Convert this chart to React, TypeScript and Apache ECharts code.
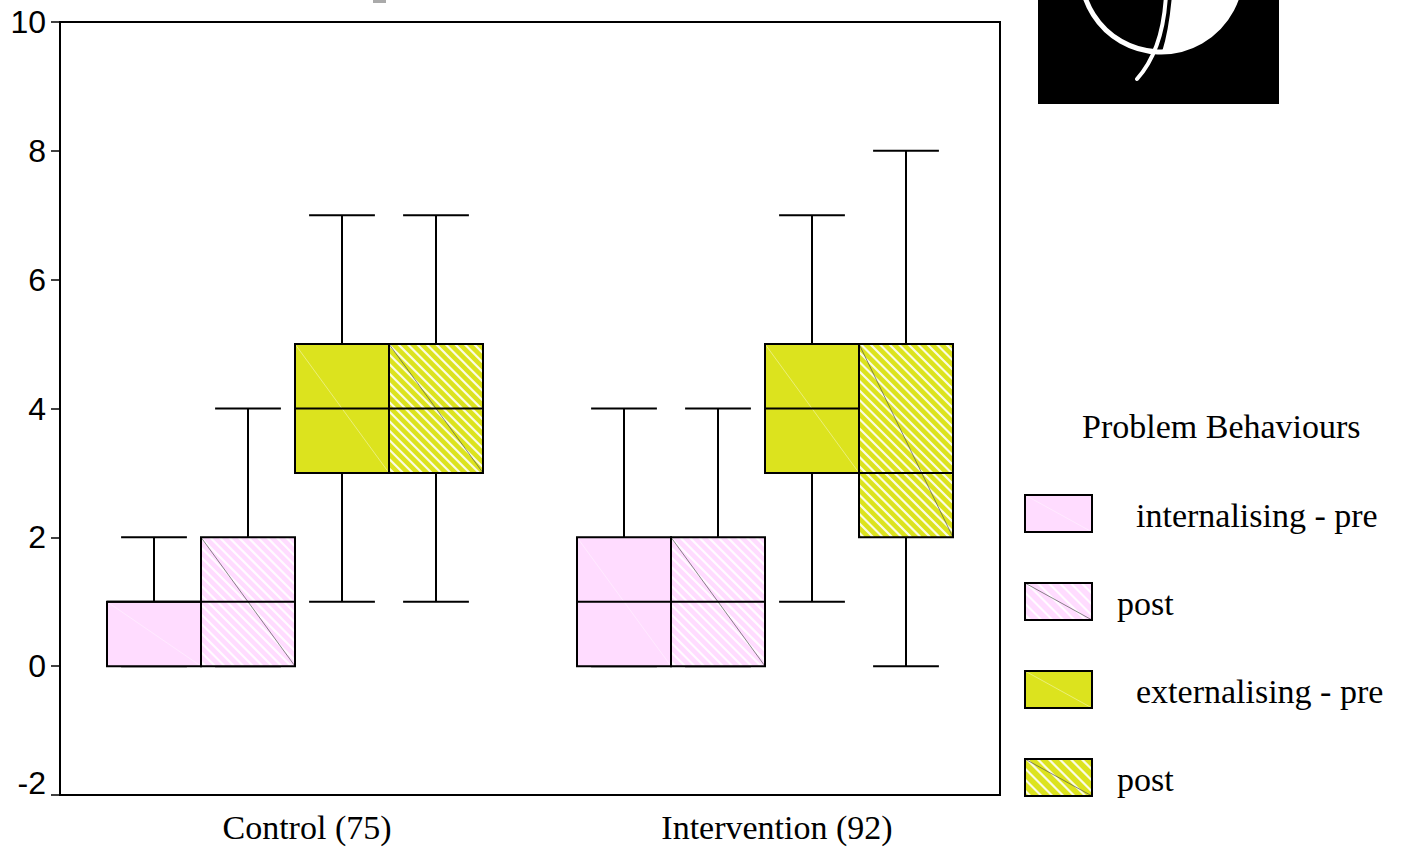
import React, { useEffect, useRef } from "react";
import * as echarts from "echarts";

const categories = ["Control (75)", "Intervention (92)"];
const legendTitle = "Problem Behaviours";
const seriesNames = ["internalising - pre", "post", "externalising - pre", "post"];
// each row: [min, q1, median, q3, max] for Control, Intervention
const internalisingPre = [
  [0, 0, 1, 1, 2],
  [0, 0, 1, 2, 4],
];
const internalisingPost = [
  [0, 0, 1, 2, 4],
  [0, 0, 1, 2, 4],
];
const externalisingPre = [
  [1, 3, 4, 5, 7],
  [1, 3, 4, 5, 7],
];
const externalisingPost = [
  [1, 3, 4, 5, 7],
  [0, 2, 3, 5, 8],
];
const yMin = -2;
const yMax = 10;
const yInterval = 2;

const PINK = "#FFDCFF";
const YELLOW = "#DCE31E";
const SERIF = "Liberation Serif";
const SANS = "Liberation Sans";

echarts.graphic.registerShape(
  "logoFill",
  echarts.graphic.extendPath("M1172 -5 Q1169 30 1162 52 A80 80 0 0 0 1238 -5 Z", {})
);

function hatchLines(x0: number, y0: number, x1: number, y1: number, spacing: number, style: any) {
  const out: any[] = [];
  for (let k = x0 - y1 + spacing / 2; k < x1 - y0; k += spacing) {
    const ya = Math.max(y0, x0 - k);
    const yb = Math.min(y1, x1 - k);
    if (yb - ya > 0.5) {
      out.push({
        type: "line",
        shape: { x1: ya + k, y1: ya, x2: yb + k, y2: yb },
        style,
        silent: true,
      });
    }
  }
  return out;
}

const hatchStyle = { stroke: "rgba(255,255,255,0.88)", lineWidth: 2.2 };

function makeRender(slot: number, fill: string, hatched: boolean) {
  return (params: any, api: any) => {
    const cat = api.value(0);
    const band = api.size([1, 0])[0];
    const bw = band * 0.2;
    const cx = api.coord([cat, 0])[0] + (slot - 1.5) * bw;
    const pMin = api.coord([cat, api.value(1)])[1];
    const pQ1 = api.coord([cat, api.value(2)])[1];
    const pMed = api.coord([cat, api.value(3)])[1];
    const pQ3 = api.coord([cat, api.value(4)])[1];
    const pMax = api.coord([cat, api.value(5)])[1];
    const x0 = cx - bw / 2;
    const x1 = cx + bw / 2;
    const cap = bw * 0.35;
    const ls = { stroke: "#000", lineWidth: 2 };
    const children: any[] = [
      { type: "line", shape: { x1: cx, y1: pMax, x2: cx, y2: pQ3 }, style: ls },
      { type: "line", shape: { x1: cx, y1: pQ1, x2: cx, y2: pMin }, style: ls },
      { type: "line", shape: { x1: cx - cap, y1: pMax, x2: cx + cap, y2: pMax }, style: ls },
      { type: "line", shape: { x1: cx - cap, y1: pMin, x2: cx + cap, y2: pMin }, style: ls },
      { type: "rect", shape: { x: x0, y: pQ3, width: bw, height: pQ1 - pQ3 }, style: { fill } },
    ];
    if (hatched) {
      children.push(...hatchLines(x0, pQ3, x1, pQ1, 9.5, hatchStyle));
      children.push({
        type: "line",
        shape: { x1: x0, y1: pQ3, x2: x1, y2: pQ1 },
        style: { stroke: "#555", lineWidth: 0.7 },
      });
    } else {
      children.push({
        type: "line",
        shape: { x1: x0, y1: pQ3, x2: x1, y2: pQ1 },
        style: { stroke: "rgba(255,255,255,0.5)", lineWidth: 0.8 },
      });
    }
    children.push(
      { type: "rect", shape: { x: x0, y: pQ3, width: bw, height: pQ1 - pQ3 }, style: { fill: "none", stroke: "#000", lineWidth: 2 } },
      { type: "line", shape: { x1: x0, y1: pMed, x2: x1, y2: pMed }, style: ls }
    );
    return { type: "group", children };
  };
}

function toData(rows: number[][]) {
  return rows.map((r, i) => [i, ...r]);
}

function legendItem(i: number, fill: string, hatched: boolean, label: string, indent: number) {
  const x = 1025;
  const y = 495 + i * 88;
  const w = 67;
  const h = 37;
  const children: any[] = [{ type: "rect", shape: { x, y, width: w, height: h }, style: { fill } }];
  if (hatched) {
    children.push(...hatchLines(x, y, x + w, y + h, 11, hatchStyle));
    children.push({ type: "line", shape: { x1: x, y1: y, x2: x + w, y2: y + h }, style: { stroke: "#555", lineWidth: 0.7 } });
  } else {
    children.push({ type: "line", shape: { x1: x, y1: y, x2: x + w, y2: y + h }, style: { stroke: "rgba(255,255,255,0.5)", lineWidth: 0.8 } });
  }
  children.push({ type: "rect", shape: { x, y, width: w, height: h }, style: { fill: "none", stroke: "#000", lineWidth: 2 } });
  children.push({
    type: "text",
    x: indent,
    y: y + h / 2 + 2,
    style: { text: label, fontFamily: SERIF, fontSize: 34, fill: "#000", verticalAlign: "middle", align: "left" },
  });
  return { type: "group", children };
}

export default function App() {
  const ref = useRef<HTMLDivElement>(null);
  useEffect(() => {
    if (!ref.current) return;
    const chart = echarts.init(ref.current, undefined, { renderer: "svg" });
    const defs = [
      { data: internalisingPre, fill: PINK, hatched: false },
      { data: internalisingPost, fill: PINK, hatched: true },
      { data: externalisingPre, fill: YELLOW, hatched: false },
      { data: externalisingPost, fill: YELLOW, hatched: true },
    ];
    chart.setOption({
      animation: false,
      backgroundColor: "#fff",
      grid: { left: 60, right: 402, top: 22, bottom: 52, show: true, borderColor: "#000", borderWidth: 2, backgroundColor: "transparent" },
      xAxis: {
        type: "category",
        data: categories,
        boundaryGap: true,
        axisLine: { onZero: false, lineStyle: { color: "#000", width: 2 } },
        axisTick: { alignWithLabel: true, length: 8, lineStyle: { color: "#000", width: 1.5 } },
        axisLabel: { color: "#000", fontFamily: SERIF, fontSize: 34, margin: 15, padding: [0, 0, 0, 24] },
        splitLine: { show: false },
      },
      yAxis: {
        type: "value",
        min: yMin,
        max: yMax,
        interval: yInterval,
        axisLine: { show: true, lineStyle: { color: "#000", width: 2 } },
        axisTick: { show: true, length: 9, lineStyle: { color: "#000", width: 1.5 } },
        axisLabel: {
          color: "#000",
          fontFamily: SANS,
          fontSize: 32,
          margin: 14,
          formatter: (v: number) => (v === yMin ? `{low|${v}}` : `{n|${v}}`),
          rich: {
            n: { fontFamily: SANS, fontSize: 32, color: "#000" },
            low: { fontFamily: SANS, fontSize: 32, color: "#000", padding: [0, 0, 24, 0] },
          },
        },
        splitLine: { show: false },
      },
      series: defs.map((d, i) => ({
        type: "custom",
        name: seriesNames[i],
        renderItem: makeRender(i, d.fill, d.hatched),
        data: toData(d.data),
        encode: { x: 0, y: [1, 2, 3, 4, 5] },
        clip: false,
      })),
      graphic: [
        { type: "rect", shape: { x: 373, y: 0, width: 13, height: 3 }, style: { fill: "#aaa" } },
        {
          type: "group",
          children: [
            { type: "rect", shape: { x: 1038, y: 0, width: 241, height: 104 }, style: { fill: "#000" } },
            { type: "circle", shape: { cx: 1161, cy: -28, r: 80 }, style: { fill: "none", stroke: "#fff", lineWidth: 5 } },
            { type: "logoFill", x: 0, y: 0, style: { fill: "#fff" } },
            { type: "bezierCurve", shape: { x1: 1166, y1: -5, x2: 1137, y2: 79, cpx1: 1163, cpy1: 50 }, style: { fill: "none", stroke: "#fff", lineWidth: 4, lineCap: "round" } },
          ],
        },
        {
          type: "text",
          x: 1082,
          y: 426,
          style: { text: legendTitle, fontFamily: SERIF, fontSize: 34, fill: "#000", verticalAlign: "middle", align: "left" },
        },
        legendItem(0, PINK, false, seriesNames[0], 1136),
        legendItem(1, PINK, true, seriesNames[1], 1117),
        legendItem(2, YELLOW, false, seriesNames[2], 1136),
        legendItem(3, YELLOW, true, seriesNames[3], 1117),
      ],
    });
    return () => chart.dispose();
  }, []);
  return (
    <div
      ref={ref}
      style={{ position: "absolute", left: 0, top: 0, width: 1402, height: 847, background: "#fff" }}
    />
  );
}
